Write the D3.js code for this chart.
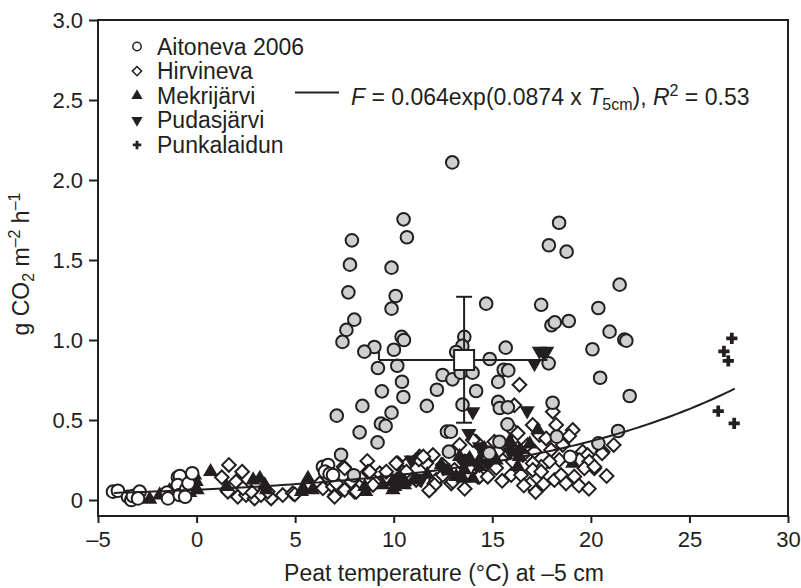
<!DOCTYPE html>
<html>
<head>
<meta charset="utf-8">
<script src="https://cdn.jsdelivr.net/npm/d3@7"></script>
<style>
  body { margin: 0; background: #fff; }
  text { font-family: "Liberation Sans", Arial, sans-serif; fill: #231f20; }
</style>
</head>
<body>
<div id="chart"></div>
<script>
// [temperature at -5 cm, g CO2 m-2 h-1]
const aitoneva2006 = [[-4.24,0.052],[-3.99,0.058],[-3.48,0.02],[-3.31,0.0],[-3.23,0.025],[-2.89,0.052],[-2.97,0.01],
  [-1.50,0.046],[-1.45,0.01],[-0.95,0.142],[-0.85,0.15],[-0.95,0.094],[-0.86,0.031],[-0.53,0.067],[-0.41,0.104],
  [-0.58,0.02],[-0.22,0.167],[6.41,0.208],[6.67,0.219],[6.51,0.177],[6.75,0.163],[6.92,0.156],[18.95,0.27]]

const grayCircles = [[12.97,2.11],[10.50,1.754],[10.67,1.642],[7.88,1.623],[7.78,1.471],[9.89,1.452],[7.70,1.298],
  [10.10,1.275],[9.89,1.196],[14.69,1.227],[8.00,1.127],[7.60,1.063],[7.40,0.988],[10.40,1.02],[10.52,1.00],
  [9.02,0.956],[8.51,0.927],[10.01,0.939],[13.58,1.02],[13.48,0.963],[13.17,0.925],[15.68,0.952],[14.87,0.881],
  [9.20,0.825],[10.18,0.839],[12.48,0.781],[12.98,0.754],[13.40,0.796],[14.00,0.796],[15.58,0.814],[15.81,0.81],
  [10.42,0.739],[15.30,0.738],[9.40,0.679],[12.19,0.689],[14.18,0.681],[10.49,0.644],[8.41,0.588],[11.68,0.588],
  [13.49,0.596],[15.30,0.613],[15.38,0.575],[15.79,0.579],[7.11,0.527],[9.89,0.546],[17.48,1.22],[17.87,1.592],
  [18.0,1.092],[18.17,1.11],[18.39,1.733],[18.77,1.552],[21.46,1.346],[20.38,1.20],[18.88,1.119],[20.95,1.052],
  [21.70,1.002],[21.80,0.996],[20.08,0.942],[17.86,0.854],[20.47,0.764],[21.97,0.65],[18.06,0.608],[8.27,0.423],
  [9.35,0.477],[9.59,0.463],[9.18,0.36],[7.33,0.283],[7.98,0.154],[12.70,0.427],[12.90,0.427],[12.80,0.302],
  [14.85,0.292],[15.77,0.473],[18.27,0.396],[15.36,0.364],[21.38,0.431],[20.38,0.354]]

const hirvineva = [[1.64,0.219],[2.31,0.177],[1.28,0.142],[2.0,0.115],[1.59,0.052],[2.09,0.02],[2.51,0.031],
  [2.94,0.01],[3.27,0.031],[3.78,0.01],[4.37,0.031],[4.88,0.042],[3.61,0.052],[2.77,0.052],[2.35,0.073],
  [6.25,0.104],[6.41,0.073],[6.92,0.083],[7.04,0.031],[7.51,0.063],[7.46,0.208],[8.02,0.052],[7.85,0.115],
  [8.66,0.244],[8.69,0.177],[8.27,0.083],[8.95,0.094],[9.29,0.167],[9.63,0.146],[10.21,0.229],[10.72,0.229],
  [11.31,0.271],[11.65,0.229],[11.99,0.281],[12.07,0.104],[10.81,0.146],[4.98,0.035],[7.51,0.198],[7.09,0.104],
  [8.10,0.052],[8.78,0.177],[9.62,0.177],[10.13,0.229],[10.13,0.125],[10.64,0.177],[11.28,0.254],[12.15,0.125],
  [12.49,0.156],[12.92,0.104],[13.34,0.344],[13.59,0.24],[14.18,0.364],[14.27,0.146],[14.69,0.271],[13.08,0.188],
  [11.14,0.125],[14.35,0.146],[14.77,0.146],[15.11,0.364],[16.04,0.438],[16.29,0.417],[17.05,0.469],[18.24,0.469],
  [19.08,0.438],[17.39,0.406],[17.73,0.385],[16.80,0.344],[16.29,0.323],[15.87,0.292],[16.55,0.281],[17.14,0.302],
  [17.98,0.313],[18.57,0.344],[18.40,0.25],[17.90,0.24],[17.48,0.208],[17.05,0.229],[16.04,0.24],[15.96,0.156],
  [16.46,0.156],[17.05,0.188],[17.48,0.177],[18.15,0.125],[18.74,0.115],[18.49,0.156],[19.16,0.146],[19.58,0.302],
  [19.83,0.281],[19.42,0.25],[20.18,0.198],[19.92,0.24],[20.60,0.302],[19.67,0.198],[15.28,0.302],[21.16,0.344],
  [20.57,0.292],[20.18,0.208],[18.74,0.104],[13.0,0.115],[12.07,0.094],[14.35,0.219],[14.01,0.375],[16.38,0.72],
  [16.12,0.592],[18.07,0.552],[12.49,0.219],[11.5,0.271],[17.6,0.1],[16.9,0.1],[19.4,0.09],[15.5,0.12],
  [20.8,0.15],[13.6,0.07],[11.8,0.06],[7.0,0.02],[18.9,0.4],[17.2,0.05],[16.6,0.09],[19.9,0.07],[15.2,0.2]]

const mekrijarvi = [[-2.38,0.004],[-1.87,0.031],[-1.37,0.058],[-0.78,0.063],[-0.35,0.046],[0.03,0.063],[-0.02,0.115],
  [-0.10,0.156],[0.71,0.177],[-1.1,0.03],[2.87,0.125],[3.21,0.135],[3.46,0.094],[3.55,0.063],[1.52,0.083],
  [5.32,0.052],[5.65,0.135],[5.87,0.063],[5.40,0.073],[8.58,0.052],[9.45,0.094],[10.05,0.083],[10.21,0.104],
  [10.55,0.115],[8.53,0.083],[9.96,0.115],[10.30,0.146],[10.55,0.094],[9.96,0.063],[12.41,0.219],[13.17,0.146],
  [13.59,0.188],[13.85,0.26],[14.35,0.208],[14.01,0.135],[15.95,0.354],[16.38,0.271],[16.29,0.208],[17.31,0.438],
  [19.08,0.229],[15.87,0.364],[16.38,0.313],[13.76,0.24],[13.51,0.135],[14.35,0.25],[13.34,0.271],[11.0,0.125],
  [12.8,0.18],[14.6,0.32],[16.9,0.35],[15.2,0.25],[11.7,0.16]]

const pudasjarvi = [[17.14,0.854],[17.39,0.931],[17.76,0.931],[17.6,0.92],[14.01,0.552],[13.81,0.417],[16.77,0.558],
  [10.89,0.25],[11.31,0.135],[13.42,0.26],[14.52,0.313],[14.35,0.333],[14.77,0.229],[11.39,0.125],[12.5,0.2],[15.9,0.3]]

const punkalaidun = [[27.15,1.01],[26.75,0.929],[26.97,0.869],[26.46,0.556],[27.27,0.479]]

// overall mean with error bars
const meanPoint = [13.57, 0.875]
const meanXErr = [9.25, 17.8]
const meanYErr = [0.483, 1.27]

// fitted curve F = a exp(b T)
const fitA = 0.064, fitB = 0.0874
const fitRange = [-4.2, 27.3]

const xTicks = [-5, 0, 5, 10, 15, 20, 25, 30]
const yTicks = [0, 0.5, 1.0, 1.5, 2.0, 2.5, 3.0]

const legendNames = ["Aitoneva 2006", "Hirvineva", "Mekrijärvi", "Pudasjärvi", "Punkalaidun"]

const ink = "#231f20"
const W = 801, H = 588
const pL = 98, pR = 788, pT = 20, pB = 516

const svg = d3.select("#chart").append("svg")
    .attr("width", W).attr("height", H)

const x = d3.scaleLinear().domain([-5, 30]).range([pL, pR])
const y = d3.scaleLinear().domain([-0.1, 3.0]).range([pB, pT])

// frame
svg.append("rect")
    .attr("x", pL).attr("y", pT)
    .attr("width", pR - pL).attr("height", pB - pT)
    .attr("fill", "none").attr("stroke", ink).attr("stroke-width", 2)

// axes
const xAxis = svg.append("g")
    .attr("transform", "translate(0," + pB + ")")
    .call(d3.axisBottom(x).tickValues(xTicks).tickSize(7).tickPadding(8)
        .tickFormat(d => d < 0 ? "\u2013" + Math.abs(d) : d))
const yAxis = svg.append("g")
    .attr("transform", "translate(" + pL + ",0)")
    .call(d3.axisLeft(y).tickValues(yTicks).tickSize(9).tickPadding(6)
        .tickFormat(d => d === 0 ? "0" : d3.format(".1f")(d)))
;[xAxis, yAxis].forEach(a => {
    a.select(".domain").remove()
    a.selectAll("line").attr("stroke", ink).attr("stroke-width", 2)
    a.selectAll("text").style("font-size", "22px").attr("fill", ink)
        .style("font-family", "'Liberation Sans', Arial, sans-serif")
})

// axis titles
svg.append("text")
    .attr("x", 444).attr("y", 581)
    .attr("text-anchor", "middle").style("font-size", "23px")
    .text("Peat temperature (\u00b0C) at  \u20135 cm")

const yl = svg.append("text")
    .attr("transform", "translate(29,264) rotate(-90)")
    .attr("text-anchor", "middle").style("font-size", "23px")
yl.append("tspan").text("g CO")
yl.append("tspan").attr("dy", 5).style("font-size", "16px").text("2")
yl.append("tspan").attr("dy", -5).text(" m")
yl.append("tspan").attr("dy", -9).style("font-size", "16px").text("\u20132")
yl.append("tspan").attr("dy", 9).text(" h")
yl.append("tspan").attr("dy", -9).style("font-size", "16px").text("\u20131")

// symbols
const sym = {
    circle: d3.symbol().type(d3.symbolCircle).size(125),
    diamond: d3.symbol().type(d3.symbolDiamond2).size(120),
    triangle: d3.symbol().type(d3.symbolTriangle).size(100),
    cross: d3.symbol().type(d3.symbolCross).size(70)
}

function drawPoints(data, shape, fill, stroke, rot) {
    svg.append("g").selectAll("path")
        .data(data).enter().append("path")
        .attr("d", sym[shape])
        .attr("transform", d => "translate(" + x(d[0]) + "," + y(d[1]) + ")" + (rot ? " rotate(180)" : ""))
        .attr("fill", fill)
        .attr("stroke", stroke)
        .attr("stroke-width", stroke === "none" ? 0 : 2)
}

drawPoints(hirvineva, "diamond", "#fff", ink)
drawPoints(mekrijarvi, "triangle", ink, "none")
drawPoints(pudasjarvi, "triangle", ink, "none", true)
drawPoints(aitoneva2006, "circle", "#fff", ink)
drawPoints(grayCircles, "circle", "#cfcfcf", ink)
drawPoints(punkalaidun, "cross", ink, "none")

// fitted curve
const curveT = d3.range(fitRange[0], fitRange[1] + 0.01, 0.25)
svg.append("path")
    .datum(curveT)
    .attr("fill", "none").attr("stroke", ink).attr("stroke-width", 2)
    .attr("d", d3.line().x(t => x(t)).y(t => y(fitA * Math.exp(fitB * t))))

// mean and error bars
const eb = svg.append("g").attr("stroke", ink).attr("stroke-width", 2)
eb.append("line")
    .attr("x1", x(meanXErr[0])).attr("x2", x(meanXErr[1]))
    .attr("y1", y(meanPoint[1])).attr("y2", y(meanPoint[1]))
eb.append("line")
    .attr("x1", x(meanXErr[0])).attr("x2", x(meanXErr[0]))
    .attr("y1", y(meanPoint[1]) - 8).attr("y2", y(meanPoint[1]))
eb.append("line")
    .attr("x1", x(meanPoint[0])).attr("x2", x(meanPoint[0]))
    .attr("y1", y(meanYErr[0])).attr("y2", y(meanYErr[1]))
meanYErr.forEach(v => {
    eb.append("line")
        .attr("x1", x(meanPoint[0]) - 8).attr("x2", x(meanPoint[0]) + 8)
        .attr("y1", y(v)).attr("y2", y(v))
})
eb.append("rect")
    .attr("x", x(meanPoint[0]) - 10).attr("y", y(meanPoint[1]) - 10)
    .attr("width", 20).attr("height", 20)
    .attr("fill", "#fff")

// legend
const legendShapes = [["circle", "#fff", ink, false], ["diamond", "#fff", ink, false],
    ["triangle", ink, "none", false], ["triangle", ink, "none", true], ["cross", ink, "none", false]]
const lg = svg.append("g")
legendNames.forEach((name, i) => {
    const cy = 46.5 + i * 24.6
    const s = legendShapes[i]
    lg.append("path")
        .attr("d", d3.symbol().type(s[0] === "circle" ? d3.symbolCircle : s[0] === "diamond" ? d3.symbolDiamond2 :
            s[0] === "triangle" ? d3.symbolTriangle : d3.symbolCross).size(s[0] === "cross" ? 40 : 55))
        .attr("transform", "translate(137," + cy + ")" + (s[3] ? " rotate(180)" : ""))
        .attr("fill", s[1]).attr("stroke", s[2]).attr("stroke-width", s[2] === "none" ? 0 : 1.5)
    lg.append("text")
        .attr("x", 157).attr("y", cy + 8)
        .style("font-size", "23px")
        .text(name)
})

// equation
svg.append("line")
    .attr("x1", 295).attr("x2", 339).attr("y1", 92.5).attr("y2", 92.5)
    .attr("stroke", ink).attr("stroke-width", 1.8)
const eq = svg.append("text")
    .attr("x", 351).attr("y", 104.5)
    .style("font-size", "23px")
eq.append("tspan").style("font-style", "italic").text("F")
eq.append("tspan").text(" = 0.064exp(0.0874 x ")
eq.append("tspan").style("font-style", "italic").text("T")
eq.append("tspan").attr("dy", 5).style("font-size", "16px").text("5cm")
eq.append("tspan").attr("dy", -5).text("), ")
eq.append("tspan").style("font-style", "italic").text("R")
eq.append("tspan").attr("dy", -9).style("font-size", "16px").text("2")
eq.append("tspan").attr("dy", 9).text(" = 0.53")
</script>
</body>
</html>
